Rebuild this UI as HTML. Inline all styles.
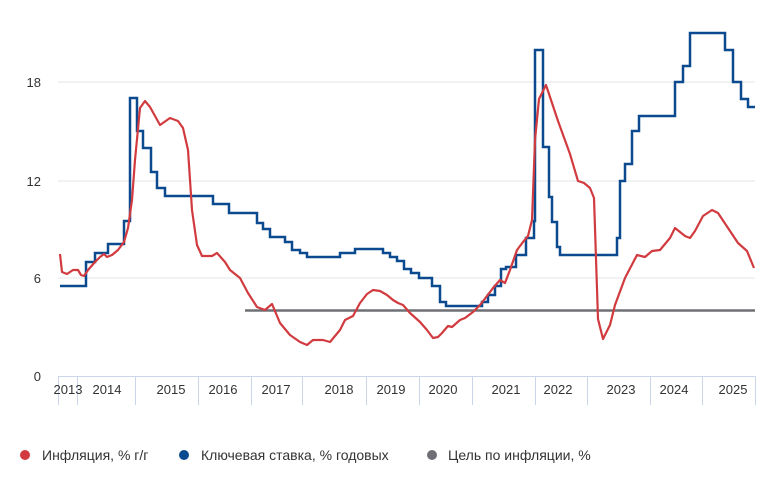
<!DOCTYPE html>
<html><head><meta charset="utf-8"><style>
body{margin:0;background:#fff;}
svg{display:block;font-family:"Liberation Sans",sans-serif;}
</style></head><body>
<svg width="784" height="489" viewBox="0 0 784 489" xmlns="http://www.w3.org/2000/svg">
<g stroke="#e3e6ea" stroke-width="1">
<line x1="58" y1="82" x2="755" y2="82"/>
<line x1="58" y1="181" x2="755" y2="181"/>
<line x1="58" y1="278" x2="755" y2="278"/>
</g>
<line x1="58" y1="376.5" x2="755" y2="376.5" stroke="#ccd6eb" stroke-width="1"/>
<g stroke="#ccd6eb" stroke-width="1">
<line x1="58.5" y1="376" x2="58.5" y2="405"/><line x1="77.5" y1="376" x2="77.5" y2="405"/>
<line x1="135.5" y1="376" x2="135.5" y2="405"/><line x1="198.5" y1="376" x2="198.5" y2="405"/>
<line x1="251.5" y1="376" x2="251.5" y2="405"/><line x1="302.5" y1="376" x2="302.5" y2="405"/>
<line x1="366.5" y1="376" x2="366.5" y2="405"/><line x1="419.5" y1="376" x2="419.5" y2="405"/>
<line x1="472.5" y1="376" x2="472.5" y2="405"/><line x1="535.5" y1="376" x2="535.5" y2="405"/>
<line x1="587.5" y1="376" x2="587.5" y2="405"/><line x1="650.5" y1="376" x2="650.5" y2="405"/>
<line x1="702.5" y1="376" x2="702.5" y2="405"/><line x1="755.5" y1="376" x2="755.5" y2="405"/>
</g>
<g font-size="13" fill="#333" text-anchor="end">
<text x="41" y="87">18</text><text x="41" y="186">12</text><text x="41" y="283">6</text><text x="41" y="381">0</text>
</g>
<g font-size="13" fill="#333" text-anchor="middle">
<text x="68" y="394">2013</text><text x="107" y="394">2014</text><text x="171" y="394">2015</text>
<text x="223" y="394">2016</text><text x="276" y="394">2017</text><text x="339" y="394">2018</text>
<text x="391" y="394">2019</text><text x="443" y="394">2020</text><text x="506" y="394">2021</text>
<text x="558" y="394">2022</text><text x="621" y="394">2023</text><text x="674" y="394">2024</text>
<text x="733" y="394">2025</text>
</g>
<line x1="245" y1="310.5" x2="755" y2="310.5" stroke="#6e7075" stroke-width="2.5"/>
<polyline fill="none" stroke="#0b4a8f" stroke-width="2.5" stroke-linejoin="miter" points="
60,286 86,286 86,262 95,262 95,253 108,253 108,244 124,244 124,221 130,221 130,98 137,98 137,131 143,131 143,148 151,148 151,172 157,172 157,188 165,188 165,196 213,196 213,204 229,204 229,213 257,213 257,223 263,223 263,229 270,229 270,237 285,237 285,242 292,242 292,250 300,250 300,253 307,253 307,257 340,257 340,253 355,253 355,249 383,249 383,253 390,253 390,257 397,257 397,261 404,261 404,269 411,269 411,273 419,273 419,278 432,278 432,286 440,286 440,302 446,302 446,306 482,306 482,302 488,302 488,295 495,295 495,286 501,286 501,269 506,269 506,267 516,267 516,255 526,255 526,238 534,238 534,221 535,221 535,50 543,50 543,147 549,147 549,197 552,197 552,222 557,222 557,247 560,247 560,255 568,255 568,255 617,255 617,238 620,238 620,181 625,181 625,164 632,164 632,131 639,131 639,116 675,116 675,82 683,82 683,66 690,66 690,33 725,33 725,50 733,50 733,82 741,82 741,99 748,99 748,107 755,107"/>
<polyline fill="none" stroke="#d13b3f" stroke-width="2.2" stroke-linejoin="round" points="
60,254 62,272 67,274 73,270 78,270 81,275 84,276 88,270 95,262 100,257 104,254 107,257 112,255 118,250 124,242 128,228 132,200 135,160 140,108 145,101 150,107 160,125 170,118 178,121 183,128 188,150 192,210 197,245 202,256 212,256 217,253 225,262 230,270 240,278 248,293 257,307 265,310 272,304 280,323 290,335 300,342 307,345 313,340 323,340 330,342 340,330 345,320 353,316 360,303 367,294 373,290 380,291 387,295 393,300 398,303 403,305 410,313 420,322 427,330 433,338 438,337 442,333 448,326 452,327 460,320 465,318 473,312 480,305 487,296 493,288 500,280 505,283 510,270 517,250 523,242 528,236 532,220 535,140 539,99 546,85 558,121 570,154 578,181 584,183 590,188 594,198 598,319 603,339 610,325 615,305 625,278 637,255 645,257 652,251 660,250 670,238 675,228 685,236 690,238 695,231 703,216 712,210 718,213 738,243 747,251 754,268"/>
<g font-size="14" fill="#333">
<circle cx="25" cy="455" r="5" fill="#d13b3f"/><text x="42" y="460">Инфляция, % г/г</text>
<circle cx="184" cy="455" r="5" fill="#0b4a8f"/><text x="201" y="460">Ключевая ставка, % годовых</text>
<circle cx="432" cy="455" r="5" fill="#6e7075"/><text x="448" y="460">Цель по инфляции, %</text>
</g>
</svg>
</body></html>
